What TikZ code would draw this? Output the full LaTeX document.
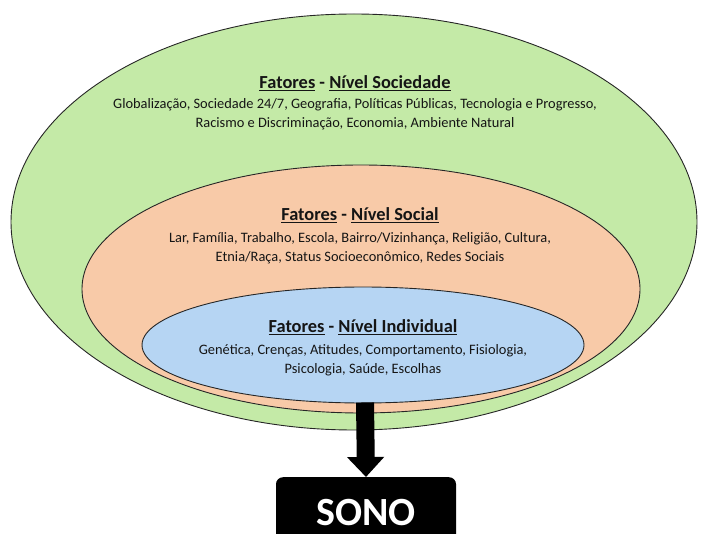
\documentclass[tikz,border=0pt]{standalone}
\usepackage{fontspec}
\setmainfont{Carlito}
\usetikzlibrary{shapes.geometric,arrows.meta}
\definecolor{cgreen}{HTML}{C4EAA7}
\definecolor{corange}{HTML}{F8CAA8}
\definecolor{cblue}{HTML}{B6D5F3}
\definecolor{ctext}{HTML}{151515}
\tikzset{
  ring/.style={ellipse,draw=black!85,line width=0.9pt,inner sep=0pt},
  ttl/.style={font=\bfseries\fontsize{18.4}{21}\selectfont,text=ctext,anchor=base},
  body/.style={font=\fontsize{14.4}{19}\selectfont,text=ctext,align=center,anchor=north},
}
\begin{document}
\begin{tikzpicture}[x=1pt,y=-1pt]
\useasboundingbox (0,0) rectangle (704,534);
\node[ring,fill=cgreen,minimum width=686,minimum height=416] (soc) at (354,222) {};
\node[ring,fill=corange,minimum width=558,minimum height=248] (sol) at (361,289) {};
\node[ring,fill=cblue,minimum width=442,minimum height=116] (ind) at (363,345) {};
% titles
\node[ttl] (t1) at (355,89) {\underline{Fatores} - \underline{Nível Sociedade}};
\node[body] (b1) at (355,95) {Globalização, Sociedade 24/7, Geografia, Políticas Públicas, Tecnologia e Progresso,\\Racismo e Discriminação, Economia, Ambiente Natural};
\node[ttl] (t2) at (360,221) {\underline{Fatores} - \underline{Nível Social}};
\node[body] (b2) at (360,229) {Lar, Família, Trabalho, Escola, Bairro/Vizinhança, Religião, Cultura,\\Etnia/Raça, Status Socioeconômico, Redes Sociais};
\node[ttl] (t3) at (363,333) {\underline{Fatores} - \underline{Nível Individual}};
\node[body] (b3) at (363,341) {Genética, Crenças, Atitudes, Comportamento, Fisiologia,\\Psicologia, Saúde, Escolhas};
% sono box
\node[fill=black,rounded corners=7pt,minimum width=180,minimum height=70,anchor=north,
      text=white,font=\bfseries\fontsize{40}{44}\selectfont,inner sep=0pt] (sono) at (366,477) {\raisebox{-7pt}{SONO}};
\coordinate (tip) at (sono.north);
\draw[line width=18pt,-{Triangle[width=36pt,length=20pt]}] (ind.south) ++(2,-1) -- (tip);
\end{tikzpicture}
\end{document}
